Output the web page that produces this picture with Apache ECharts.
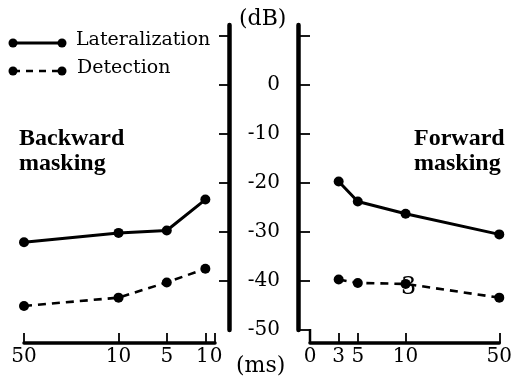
<!DOCTYPE html>
<html>
<head>
<meta charset="utf-8">
<script src="https://cdn.jsdelivr.net/npm/echarts@6/dist/echarts.min.js"></script>
<style>
  html, body { margin: 0; padding: 0; background: #fff; }
  #chart { width: 515px; height: 378px; }
</style>
</head>
<body>
<div id="chart"></div>
<script>
    // delays (ms) and thresholds (dB)
    const backwardMs = [50, 10, 5, 1];
    const backwardLat = [-32.1, -30.2, -29.7, -23.4];
    const backwardDet = [-45.1, -43.4, -40.3, -37.5];

    const forwardMs = [3, 5, 10, 50];
    const forwardLat = [-19.7, -23.8, -26.3, -30.5];
    const forwardDet = [-39.7, -40.4, -40.6, -43.4];

    const backwardTicks = [50, 10, 5, 1, 0];
    const forwardTicks = [0, 3, 5, 10, 50];
    const dbLabels = [0, -10, -20, -30, -40, -50];
    const dbTicks = [10, 0, -10, -20, -30, -40];

    // the time axis is linear up to 10 ms, then compressed up to 50 ms
    function msScale(ms) {
        return ms <= 10 ? ms : 10 + (ms - 10) * 0.245;
    }
    function msLabel(u) {
        const all = [0, 1, 3, 5, 10, 50];
        for (let i = 0; i < all.length; i++) {
            if (Math.abs(msScale(all[i]) - u) < 1e-6) {
                // nudge "1" left and "0" right so they read as two labels
                if (all[i] === 1) return '{one|1}';
                return String(all[i]);
            }
        }
        return '';
    }
    function pairs(ms, db) {
        return ms.map((m, i) => [msScale(m), db[i]]);
    }

    const serif = 'DejaVu Serif';
    const yMin = -50, yMax = 12.2, xMax = msScale(50);

    const chart = echarts.init(document.getElementById('chart'));

    const timeAxis = (grid, ticks, labels, inverse) => ({
        type: 'value',
        gridIndex: grid,
        position: 'bottom',
        min: 0,
        max: xMax,
        inverse: inverse,
        offset: 13,
        splitLine: {show: false},
        axisLine: {show: true, onZero: false, lineStyle: {color: '#000', width: 3.5}},
        axisTick: {
            show: true,
            inside: true,
            length: 10,
            customValues: ticks.map(msScale),
            lineStyle: {color: '#000', width: 1.8}
        },
        axisLabel: {
            customValues: labels.map(msScale),
            formatter: msLabel,
            showMinLabel: true,
            showMaxLabel: true,
            margin: 4,
            color: '#000',
            fontFamily: serif,
            fontSize: 20,
            rich: {
                one: {fontFamily: serif, fontSize: 20, color: '#000', padding: [0, 6, 0, 0]}
            }
        }
    });

    // the "0" of the backward axis sits right against "1", so it gets its own label-only axis
    const zeroAxis = {
        type: 'value',
        gridIndex: 0,
        position: 'bottom',
        min: 0,
        max: xMax,
        inverse: true,
        offset: 13,
        splitLine: {show: false},
        axisLine: {show: false},
        axisTick: {show: false},
        axisLabel: {
            customValues: [0],
            formatter: () => '{zero|0}',
            showMinLabel: true,
            margin: 4,
            rich: {
                zero: {fontFamily: serif, fontSize: 20, color: '#000', padding: [0, 0, 0, 2]}
            }
        }
    };

    const lineSeries = (grid, data, dashed) => ({
        type: 'line',
        xAxisIndex: grid,
        yAxisIndex: grid,
        data: data,
        symbol: 'circle',
        symbolSize: 10,
        showSymbol: true,
        silent: true,
        animation: false,
        itemStyle: {color: '#000'},
        lineStyle: {color: '#000', width: dashed ? 2.6 : 3, type: dashed ? [8, 6] : 'solid'}
    });

    chart.setOption({
        animation: false,
        backgroundColor: '#fff',
        grid: [
            {left: 24, top: 25, width: 191, height: 305},
            {left: 310, top: 25, width: 192, height: 305}
        ],
        xAxis: [
            timeAxis(0, backwardTicks, [50, 10, 5, 1], true),
            timeAxis(1, forwardTicks, forwardTicks, false),
            zeroAxis
        ],
        yAxis: [{
            type: 'value',
            gridIndex: 0,
            position: 'right',
            offset: 14,
            min: yMin,
            max: yMax,
            splitLine: {show: false},
            axisLine: {show: true, onZero: false, lineStyle: {color: '#000', width: 4.5}},
            axisTick: {show: true, inside: true, length: 10, customValues: dbTicks,
                lineStyle: {color: '#000', width: 1.8}},
            axisLabel: {show: false}
        }, {
            type: 'value',
            gridIndex: 1,
            position: 'left',
            offset: 12,
            min: yMin,
            max: yMax,
            splitLine: {show: false},
            axisLine: {show: true, onZero: false, lineStyle: {color: '#000', width: 4.5}},
            axisTick: {show: true, inside: true, length: 12, customValues: dbTicks.concat([-50]),
                lineStyle: {color: '#000', width: 1.8}},
            axisLabel: {
                customValues: dbLabels,
                margin: 18,
                align: 'right',
                color: '#000',
                fontFamily: serif,
                fontSize: 20
            }
        }],
        series: [
            lineSeries(0, pairs(backwardMs, backwardLat), false),
            lineSeries(0, pairs(backwardMs, backwardDet), true),
            lineSeries(1, pairs(forwardMs, forwardLat), false),
            lineSeries(1, pairs(forwardMs, forwardDet), true)
        ],
        graphic: [
            // step joining the right dB axis to the forward time axis
            {type: 'line', shape: {x1: 310, y1: 329, x2: 310, y2: 343}, style: {stroke: '#000', lineWidth: 2.5}},
            // legend
            {type: 'line', shape: {x1: 13, y1: 43, x2: 62, y2: 43}, style: {stroke: '#000', lineWidth: 3}},
            {type: 'circle', shape: {cx: 13, cy: 43, r: 4.5}, style: {fill: '#000'}},
            {type: 'circle', shape: {cx: 62, cy: 43, r: 4.5}, style: {fill: '#000'}},
            {type: 'line', shape: {x1: 13, y1: 71, x2: 62, y2: 71}, style: {stroke: '#000', lineWidth: 2.6, lineDash: [7, 6]}},
            {type: 'circle', shape: {cx: 13, cy: 71, r: 4.5}, style: {fill: '#000'}},
            {type: 'circle', shape: {cx: 62, cy: 71, r: 4.5}, style: {fill: '#000'}},
            {type: 'text', left: 76, top: 31, style: {text: 'Lateralization', fontFamily: serif, fontSize: 19, fill: '#000'}},
            {type: 'text', left: 77, top: 59, style: {text: 'Detection', fontFamily: serif, fontSize: 19, fill: '#000'}},
            // axis units
            {type: 'text', left: 239, top: 8, style: {text: '(dB)', fontFamily: serif, fontSize: 22, fill: '#000'}},
            {type: 'text', left: 236, top: 355, style: {text: '(ms)', fontFamily: serif, fontSize: 22, fill: '#000'}},
            // panel titles
            {type: 'text', left: 19, top: 126, style: {text: 'Backward\nmasking', fontFamily: 'Liberation Serif',
                fontWeight: 'bold', fontSize: 24, lineHeight: 25, fill: '#000'}},
            {type: 'text', left: 414, top: 126, style: {text: 'Forward\nmasking', fontFamily: 'Liberation Serif',
                fontWeight: 'bold', fontSize: 24, lineHeight: 25, fill: '#000'}},
            // stray glyph in the original figure
            {type: 'text', left: 401, top: 276, style: {text: '3', fontFamily: serif, fontSize: 24, fill: '#000'}}
        ]
    });
</script>
</body>
</html>
